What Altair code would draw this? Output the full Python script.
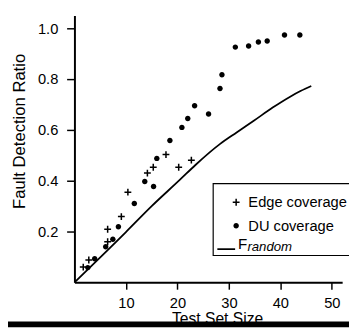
import altair as alt
import pandas as pd

# ---- data ----
edge_x = [1.71, 2.79, 6.45, 6.45, 9.11, 10.38, 14.17, 15.31, 17.78, 20.25, 22.71]
edge_y = [0.060, 0.088, 0.160, 0.209, 0.259, 0.355, 0.430, 0.453, 0.503, 0.453, 0.481]

du_x = [2.60, 3.93, 6.07, 7.46, 8.54, 11.63, 13.66, 15.37, 16.0, 18.54, 20.87,
        22.01, 23.34, 26.05, 28.27, 28.65, 31.25, 33.83, 35.73, 37.44, 40.80, 43.78]
du_y = [0.058, 0.093, 0.140, 0.170, 0.219, 0.310, 0.397, 0.377, 0.488, 0.558, 0.610,
        0.645, 0.695, 0.663, 0.763, 0.817, 0.926, 0.930, 0.946, 0.950, 0.974, 0.974]

rand_x = [0, 10, 15, 20.5, 23.5, 28.3, 31.5, 34.9, 38.5, 41.9, 44.0, 46.0]
rand_y = [0, 0.198, 0.300, 0.404, 0.462, 0.545, 0.590, 0.637, 0.688, 0.731, 0.754, 0.773]

series_names = ["Edge coverage", "DU coverage", "Frandom"]
x_ticks = [10, 20, 30, 40, 50]
y_ticks = [0.2, 0.4, 0.6, 0.8, 1.0]
sub_main = ["F"]
sub_text = ["random"]

# filled outlines so that the legend (which only fills) shows them
PLUS = ("M-1,-0.22L-0.22,-0.22L-0.22,-1L0.22,-1L0.22,-0.22L1,-0.22L1,0.22"
        "L0.22,0.22L0.22,1L-0.22,1L-0.22,0.22L-1,0.22Z")
DOT = "M-0.8,0A0.8,0.8 0 1,0 0.8,0A0.8,0.8 0 1,0 -0.8,0Z"
DASH = "M-5.5,-0.25L-0.3,-0.25L-0.3,0.25L-5.5,0.25Z"

points_df = pd.DataFrame({
    "x": edge_x + du_x,
    "y": edge_y + du_y,
    "series": [series_names[0]] * len(edge_x) + [series_names[1]] * len(du_x),
})
line_df = pd.DataFrame({"x": rand_x, "y": rand_y})

xscale = alt.Scale(domain=[0, 52], nice=False, zero=False)
yscale = alt.Scale(domain=[0, 1.05], nice=False, zero=False)

x_axis = alt.Axis(values=x_ticks, format="d", title="Test Set Size", titleFontSize=16,
                  titleFontWeight="normal", titleX=146, titleY=42, titleBaseline="alphabetic",
                  titleAlign="center", tickSize=7, labelPadding=7)
y_axis = alt.Axis(values=y_ticks, format=".1f", title="Fault Detection Ratio", titleFontSize=17,
                  titleFontWeight="normal", titleX=-51, titleY=118, titleBaseline="alphabetic",
                  titleAlign="center", tickSize=8, labelPadding=9)

points = alt.Chart(points_df).mark_point(
    filled=True, size=49, color="black", opacity=1
).encode(
    x=alt.X("x:Q", scale=xscale, axis=x_axis),
    y=alt.Y("y:Q", scale=yscale, axis=y_axis),
    shape=alt.Shape("series:N",
                    scale=alt.Scale(domain=series_names, range=[PLUS, DOT, DASH]),
                    legend=alt.Legend(
                        title=None, orient="none", legendX=142, legendY=177.5,
                        padding=6, symbolOffset=10, labelOffset=5,
                        labelFontSize=15, labelColor="black", rowPadding=8, symbolSize=49,
                        symbolFillColor="black", symbolOpacity=1, symbolStrokeWidth=0,
                        labelExpr="datum.label == 'Frandom' ? ' ' : datum.label",
                    )),
)

line = alt.Chart(line_df).mark_line(color="black", strokeWidth=1.8, interpolate="monotone").encode(
    x=alt.X("x:Q", scale=xscale),
    y=alt.Y("y:Q", scale=yscale),
)

legend_box = alt.Chart(pd.DataFrame({"t": [0]})).mark_rect(
    fill=None, stroke="black", strokeWidth=1.2
).encode(x=alt.value(142), x2=alt.value(300), y=alt.value(172), y2=alt.value(245.5))

f_label = alt.Chart(pd.DataFrame({"t": sub_main})).mark_text(
    align="left", baseline="alphabetic", fontSize=15.5, color="black"
).encode(text="t:N", x=alt.value(167.5), y=alt.value(238.5))

r_label = alt.Chart(pd.DataFrame({"t": sub_text})).mark_text(
    align="left", baseline="alphabetic", fontSize=13.5, fontStyle="italic", color="black"
).encode(text="t:N", x=alt.value(177), y=alt.value(241))

bottom_rule = alt.Chart(pd.DataFrame({"t": [0]})).mark_rule(
    color="black", strokeWidth=6
).encode(x=alt.value(-80), x2=alt.value(300), y=alt.value(316))

chart = alt.layer(line, points, legend_box, f_label, r_label, bottom_rule).properties(
    width=274, height=273,
    padding={"left": 68, "top": 4, "right": 7, "bottom": 46},
    autosize="none",
).configure(
    font="Liberation Sans"
).configure_axis(
    domainColor="black", domainWidth=2, tickColor="black", tickWidth=1.5,
    labelColor="black", labelFontSize=15, titleColor="black", grid=False,
).configure_view(stroke=None)

chart.save("out.html", embed_options={"renderer": "svg", "actions": False})
